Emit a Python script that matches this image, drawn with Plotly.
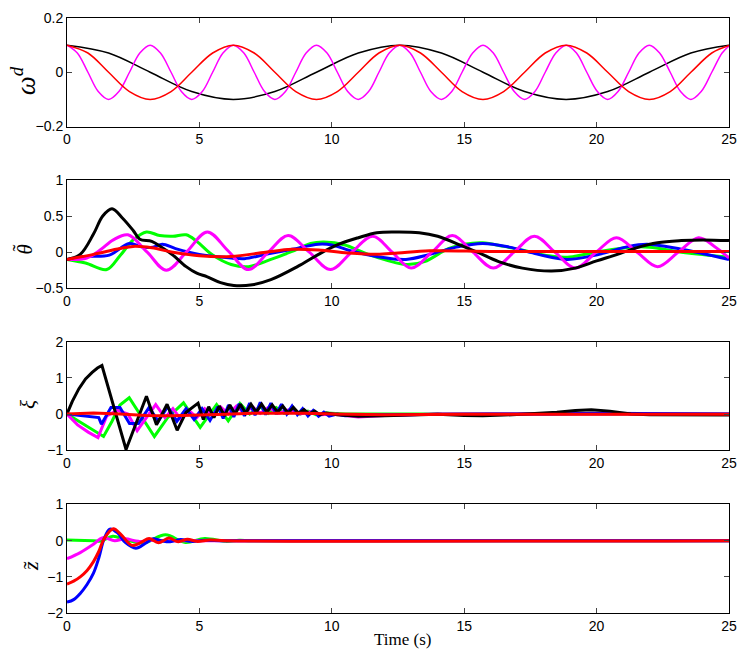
import plotly.graph_objects as go

# ---- panel 1: omega^d ----
t_w_blk = [0, 1.57, 3.14, 4.71, 6.28, 7.85, 9.42, 11.00, 12.57, 14.14, 15.71, 17.28, 18.85, 20.42, 21.99, 23.56, 25.0]
w_blk = [0.1, 0.071, 0, -0.071, -0.1, -0.071, 0, 0.071, 0.1, 0.071, 0, -0.071, -0.1, -0.071, 0, 0.071, 0.1]

t_w_red = [0, 0.79, 1.57, 2.36, 3.14, 3.93, 4.71, 5.50, 6.28, 7.07, 7.85, 8.64, 9.42, 10.21, 11.00, 11.78,
           12.57, 13.35, 14.14, 14.92, 15.71, 16.49, 17.28, 18.06, 18.85, 19.63, 20.42, 21.21, 21.99, 22.78,
           23.56, 24.35, 25.0]
w_red = [0.1, 0.071, 0, -0.071, -0.1, -0.071, 0, 0.071, 0.1, 0.071, 0, -0.071, -0.1, -0.071, 0, 0.071,
         0.1, 0.071, 0, -0.071, -0.1, -0.071, 0, 0.071, 0.1, 0.071, 0, -0.071, -0.1, -0.071, 0, 0.071, 0.099]

t_w_mag = [0, 0.39, 0.79, 1.18, 1.57, 1.96, 2.36, 2.75, 3.14, 3.53, 3.93, 4.32, 4.71, 5.11, 5.50, 5.89,
           6.28, 6.68, 7.07, 7.46, 7.85, 8.25, 8.64, 9.03, 9.42, 9.82, 10.21, 10.60, 11.00, 11.39, 11.78, 12.17,
           12.57, 12.96, 13.35, 13.74, 14.14, 14.53, 14.92, 15.32, 15.71, 16.10, 16.49, 16.89, 17.28, 17.67,
           18.06, 18.46, 18.85, 19.24, 19.63, 20.03, 20.42, 20.81, 21.21, 21.60, 21.99, 22.38, 22.78, 23.17,
           23.56, 23.95, 24.35, 24.74, 25.0]
w_mag = [0.1, 0.071, 0, -0.071, -0.1, -0.071, 0, 0.071] * 8 + [0.097]

# ---- panel 2: theta tilde ----
t_th_blk = [0, 0.5, 1.0, 1.35, 1.7, 2.1, 2.5, 2.75, 3.2, 3.6, 4.0, 4.5, 4.9, 5.3, 5.8, 6.3, 7.0, 7.7, 8.7,
            9.5, 10.2, 11.0, 11.7, 12.5, 13.3, 14.0, 14.9, 15.5, 16.3, 17.2, 18.3, 19.2, 20.0, 20.7, 21.5,
            22.3, 23.2, 24.0, 25.0]
th_blk = [-0.1, -0.03, 0.25, 0.5, 0.6, 0.47, 0.3, 0.18, 0.15, 0.06, -0.04, -0.2, -0.29, -0.34, -0.42, -0.46,
          -0.45, -0.38, -0.2, -0.03, 0.1, 0.2, 0.27, 0.28, 0.27, 0.22, 0.09, 0.0, -0.13, -0.22, -0.26, -0.22,
          -0.12, -0.04, 0.06, 0.13, 0.16, 0.17, 0.16]

t_th_grn = [0, 0.7, 1.5, 2.0, 2.5, 3.0, 3.5, 4.0, 4.5, 4.9, 5.5, 6.2, 6.85, 7.7, 8.5, 9.2, 9.7, 10.5, 11.1,
            11.7, 12.8, 13.5, 14.4, 15.0, 15.7, 16.5, 17.3, 18.2, 18.9, 20.1, 21.3, 22.0, 23.2, 25.0]
th_grn = [-0.1, -0.15, -0.24, -0.05, 0.17, 0.28, 0.23, 0.22, 0.24, 0.15, -0.04, -0.17, -0.2, -0.1, 0.01, 0.12,
          0.14, 0.1, 0.01, -0.07, -0.17, -0.13, 0.05, 0.11, 0.13, 0.08, 0.02, -0.05, -0.07, 0.01, 0.07, 0.07,
          0.0, -0.07]

t_th_blu = [0, 0.75, 1.6, 2.35, 2.85, 3.25, 3.6, 4.1, 5.0, 6.2, 6.7, 7.5, 8.5, 9.5, 10.0, 10.7, 11.7, 12.8,
            13.7, 14.7, 15.7, 16.7, 17.8, 18.9, 20.1, 21.1, 21.9, 23.2, 25.0]
th_blu = [-0.1, -0.06, -0.04, 0.12, 0.07, 0.07, 0.11, 0.05, -0.03, -0.08, -0.09, -0.03, 0.04, 0.11, 0.1, 0.02,
          -0.06, -0.1, -0.03, 0.07, 0.12, 0.07, -0.03, -0.1, -0.03, 0.07, 0.11, 0.04, -0.1]

t_th_mag = [0, 0.75, 1.25, 1.75, 2.3, 3.03, 3.75, 4.53, 5.3, 6.08, 6.85, 7.6, 8.35, 9.15, 9.95, 10.75, 11.55,
            12.28, 13.0, 13.78, 14.55, 15.33, 16.1, 16.88, 17.65, 18.43, 19.2, 19.98, 20.75, 21.53, 22.3,
            23.08, 23.85, 24.45, 25.0]
th_mag = [-0.1, -0.08, 0.03, 0.17, 0.24, 0.0, -0.25, 0.01, 0.28, 0.02, -0.24, 0.0, 0.23, 0.0, -0.24, 0.0, 0.22,
          0.0, -0.22, 0.0, 0.23, 0.0, -0.22, 0.0, 0.22, 0.0, -0.22, 0.0, 0.2, 0.0, -0.2, 0.0, 0.2, 0.08, -0.08]

t_th_red = [0, 1.0, 2.0, 2.5, 3.2, 4.0, 5.0, 6.2, 7.5, 8.5, 9.5, 10.6, 11.7, 12.5, 13.7, 16, 18, 20, 22, 25]
th_red = [-0.1, -0.03, 0.05, 0.08, 0.06, 0.0, -0.05, -0.06, 0.0, 0.04, 0.03, -0.01, -0.03, -0.01, 0.02, 0.01,
          0.01, 0.01, 0.01, 0.01]

# ---- panel 3: xi ----
t_xi_blk = [0, 0.2, 0.45, 0.7, 0.95, 1.15, 1.32, 2.23, 3.0, 3.38, 3.78, 4.16, 4.5, 4.95, 5.15, 5.35, 5.55,
            5.75, 5.95, 6.15, 6.35, 6.55, 6.75, 6.95, 7.15, 7.35, 7.55, 7.75, 7.95, 8.15, 8.35, 8.55, 8.75,
            8.95, 9.15, 9.35, 9.55, 9.8, 10.2, 11, 12, 13, 14, 15, 15.7, 16.5, 17.5, 18.5, 19.2, 19.8, 20.5,
            21.3, 22, 23, 24, 25]
xi_blk = [0, 0.35, 0.7, 0.97, 1.15, 1.27, 1.34, -0.98, 0.49, -0.3, 0.27, -0.45, 0.05, 0.3, -0.15, 0.2, -0.1,
          0.22, -0.05, 0.25, 0.0, 0.27, 0.02, 0.27, 0.05, 0.27, 0.05, 0.25, 0.05, 0.22, 0.03, 0.18, 0.02, 0.12,
          0.0, 0.08, -0.02, 0.03, -0.02, -0.06, -0.05, -0.02, -0.01, -0.04, -0.05, -0.03, 0.0, 0.05, 0.1, 0.12,
          0.08, 0.0, -0.02, -0.02, -0.03, -0.03]

t_xi_grn = [0, 0.5, 1.0, 1.38, 1.7, 2.0, 2.35, 2.8, 3.3, 3.8, 4.4, 5.03, 5.65, 6.09, 6.53, 6.9, 7.3, 7.6, 7.9,
            8.2, 8.5, 8.8, 9.1, 9.4, 9.8, 10.5, 12, 14, 16, 18, 20, 22, 25]
xi_grn = [0, -0.22, -0.45, -0.62, -0.2, 0.25, 0.45, -0.05, -0.62, -0.1, 0.31, -0.37, 0.26, -0.19, 0.29, 0.0,
          0.2, 0.02, 0.18, 0.02, 0.12, 0.0, 0.08, -0.02, 0.03, 0.0, 0.0, -0.01, 0.0, 0.0, 0.0, 0.0, 0.0]

t_xi_mag = [0, 0.4, 0.8, 1.17, 1.5, 1.9, 2.3, 2.65, 3.0, 3.35, 3.7, 4.0, 4.3, 4.6, 4.9, 5.2, 5.5, 5.8, 6.1,
            6.4, 6.7, 7.0, 7.3, 7.6, 8.0, 8.4, 8.8, 9.2, 9.6, 10.0, 11, 12, 14, 25]
xi_mag = [0, -0.3, -0.5, -0.65, -0.05, 0.1, 0.0, -0.46, -0.1, 0.26, -0.1, 0.15, -0.15, 0.1, -0.1, 0.15, -0.05,
          0.2, 0.0, 0.22, 0.02, 0.2, 0.02, 0.18, 0.02, 0.12, 0.0, 0.06, -0.02, 0.0, -0.08, -0.04, 0.0, 0.0]

t_xi_blu = [0, 0.6, 1.2, 1.3, 1.66, 2.0, 2.36, 2.7, 3.1, 3.45, 3.8, 4.15, 4.5, 4.8, 5.1, 5.4, 5.7, 5.9, 6.1,
            6.3, 6.5, 6.7, 6.9, 7.1, 7.3, 7.5, 7.7, 7.9, 8.1, 8.3, 8.5, 8.7, 8.9, 9.1, 9.3, 9.5, 9.7, 9.9,
            10.2, 10.5, 11, 12, 14, 16, 18, 20, 25]
xi_blu = [0, -0.05, -0.1, -0.28, 0.18, 0.18, -0.26, -0.26, 0.18, -0.2, 0.2, -0.2, 0.15, -0.15, 0.15, -0.18,
          0.2, -0.12, 0.25, -0.08, 0.28, -0.05, 0.3, -0.03, 0.32, -0.02, 0.3, 0.0, 0.27, 0.0, 0.22, -0.02,
          0.15, -0.05, 0.1, -0.06, 0.05, -0.06, 0.0, -0.05, -0.03, -0.02, 0.0, 0.0, 0.0, 0.02, 0.0]

t_xi_red = [0, 1.0, 2.0, 3.0, 4.0, 5.0, 6.0, 7.0, 8.0, 9.0, 10.0, 12, 15, 20, 25]
xi_red = [0, 0.03, 0.0, -0.04, -0.05, -0.04, -0.01, 0.02, 0.03, 0.02, 0.0, -0.02, -0.01, 0.0, -0.01]

# ---- panel 4: z tilde ----
t_z_grn = [0, 1.0, 1.3, 1.73, 2.2, 2.9, 3.72, 4.47, 5.2, 6.0, 6.5, 7.0, 25]
z_grn = [0.02, 0.0, -0.01, 0.12, 0.03, -0.06, 0.16, -0.05, 0.06, -0.02, 0.01, 0.0, 0.0]

t_z_mag = [0, 0.5, 1.0, 1.35, 1.8, 2.2, 2.7, 3.2, 4.0, 25]
z_mag = [-0.5, -0.33, -0.1, 0.08, 0.0, 0.05, -0.02, 0.01, 0.0, 0.0]

t_z_blu = [0, 0.25, 0.5, 0.75, 1.0, 1.2, 1.4, 1.62, 1.9, 2.2, 2.6, 2.95, 3.25, 3.55, 3.9, 4.3, 4.7, 5.2, 6.0, 25]
z_blu = [-1.7, -1.63, -1.46, -1.22, -0.9, -0.48, 0.05, 0.32, 0.22, -0.05, -0.21, -0.08, 0.05, 0.0, -0.03, 0.03,
         -0.02, 0.01, 0.0, 0.0]

t_z_red = [0, 0.25, 0.5, 0.75, 1.0, 1.2, 1.4, 1.75, 2.05, 2.45, 2.8, 3.1, 3.45, 3.85, 4.2, 4.55, 4.9, 5.4, 6.0, 25]
z_red = [-1.2, -1.12, -1.0, -0.83, -0.58, -0.3, 0.05, 0.33, 0.16, -0.13, -0.05, 0.06, -0.06, 0.07, -0.03, 0.04,
         -0.02, 0.02, 0.0, 0.0]

panels = [
    [(t_w_blk, w_blk, "black"), (t_w_mag, w_mag, "#ff00ff"), (t_w_red, w_red, "#ff0000")],
    [(t_th_grn, th_grn, "#00ff00"), (t_th_blu, th_blu, "#0000ff"), (t_th_mag, th_mag, "#ff00ff"),
     (t_th_blk, th_blk, "black"), (t_th_red, th_red, "#ff0000")],
    [(t_xi_grn, xi_grn, "#00ff00"), (t_xi_mag, xi_mag, "#ff00ff"), (t_xi_blu, xi_blu, "#0000ff"),
     (t_xi_blk, xi_blk, "black"), (t_xi_red, xi_red, "#ff0000")],
    [(t_z_grn, z_grn, "#00ff00"), (t_z_mag, z_mag, "#ff00ff"), (t_z_blu, z_blu, "#0000ff"),
     (t_z_red, z_red, "#ff0000")],
]
shapes = ["spline", "spline", "linear", "spline"]
widths = [1.5, 3, 3, 3]

domains = [[0.8176, 1.0], [0.5456, 0.728], [0.2736, 0.4561], [0.0, 0.1824]]
yranges = [[-0.2, 0.2], [-0.5, 1], [-1, 2], [-2, 1]]
ydticks = [0.2, 0.5, 1, 1]
# base letter, accent (tilde or none), label position and size
ylabels = ["<i>ω</i><sup><i>d</i></sup>", "<i>θ</i>", "<i>ξ</i>", "<i>z</i>"]
accents = [None, "˜", None, "˜"]
accent_shift = [0, -5, 0, 0]
label_y = [0.42, 0.36, 0.42, 0.43]
label_x = [-0.066, -0.063, -0.06, -0.055]
label_size = [27, 21, 21, 22]

serif = "Liberation Serif, Times New Roman, serif"
fig = go.Figure()
tickfont = dict(family="Liberation Sans, Arial, sans-serif", size=14, color="black")
annotations = []

for i, traces in enumerate(panels):
    n = "" if i == 0 else str(i + 1)
    for x, y, c in traces:
        fig.add_trace(go.Scatter(x=x, y=y, mode="lines", xaxis="x" + n, yaxis="y" + n,
                                 line=dict(color=c, width=widths[i], shape=shapes[i]),
                                 showlegend=False, hoverinfo="skip"))
    axis_common = dict(showline=True, linecolor="black", linewidth=1, mirror="ticks",
                       ticks="inside", ticklen=5, tickcolor="#444", showgrid=False,
                       zeroline=False, tickfont=tickfont)
    fig.layout["xaxis" + n] = dict(axis_common, domain=[0, 1], range=[0, 25], dtick=5, tick0=0,
                                   anchor="y" + n)
    fig.layout["yaxis" + n] = dict(axis_common, domain=domains[i], range=yranges[i], dtick=ydticks[i],
                                   tick0=0, anchor="x" + n)
    annotations.append(dict(text=ylabels[i], xref="x" + n + " domain", yref="y" + n + " domain",
                            x=label_x[i], y=label_y[i], xanchor="center", yanchor="middle",
                            textangle=-90, showarrow=False,
                            font=dict(family=serif, size=label_size[i], color="black")))
    if accents[i]:
        annotations.append(dict(text=accents[i], xref="x" + n + " domain", yref="y" + n + " domain",
                                x=label_x[i], y=label_y[i], xanchor="center", yanchor="middle",
                                xshift=accent_shift[i], yshift=1,
                                textangle=-90, showarrow=False,
                                font=dict(family=serif, size=label_size[i], color="black")))

annotations.append(dict(text="Time (s)", xref="paper", yref="paper", x=0.507, y=-0.045,
                        xanchor="center", yanchor="middle", showarrow=False,
                        font=dict(family=serif, size=17, color="black")))

fig.update_layout(width=747, height=652, margin=dict(l=67, r=11, t=10, b=39),
                  paper_bgcolor="white", plot_bgcolor="white", annotations=annotations)

fig.write_html("out.html", config={"displayModeBar": False},
               post_script="document.body.style.margin='0';document.body.style.overflow='hidden';")
